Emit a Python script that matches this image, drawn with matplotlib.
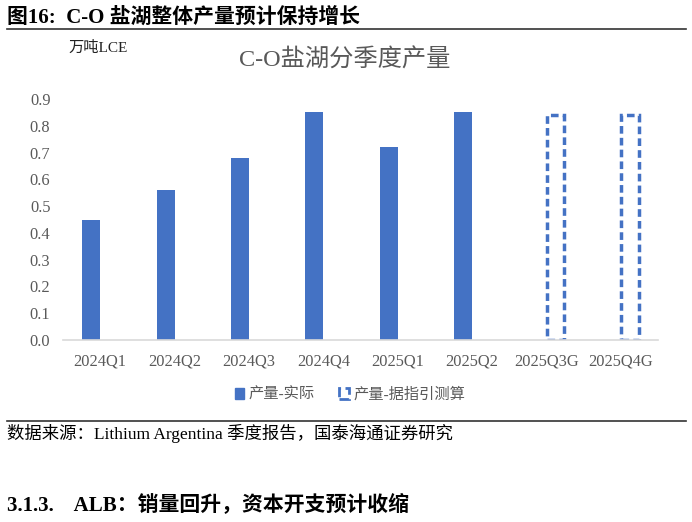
import numpy as np
import matplotlib
matplotlib.use('Agg')
import matplotlib.pyplot as plt
import matplotlib.patches as mpatches
from matplotlib.lines import Line2D

plt.rcParams['font.family'] = ['Liberation Serif', 'Noto Sans CJK SC']

categories = ['2024Q1', '2024Q2', '2024Q3', '2024Q4', '2025Q1', '2025Q2', '2025Q3G', '2025Q4G']
actual = [0.45, 0.56, 0.68, 0.85, 0.72, 0.85, np.nan, np.nan]
guided = [np.nan, np.nan, np.nan, np.nan, np.nan, np.nan, 0.84, 0.84]
yticks = [0.0, 0.1, 0.2, 0.3, 0.4, 0.5, 0.6, 0.7, 0.8, 0.9]

blue = '#4472C4'
gray = '#595959'

fig = plt.figure(figsize=(6.92, 5.22), dpi=100)
ax = fig.add_axes([0.091, 0.3487, 0.86, 0.4616])

x = np.arange(len(categories))
w = 0.24
ax.bar(x - w / 2, actual, width=w, color=blue, label='产量-实际')
ax.bar(x + w / 2, guided, width=w, facecolor='none', edgecolor=blue,
       linewidth=2.5, linestyle=(0, (2.2, 1.2)), label='产量-据指引测算')

ax.set_xlim(-0.5, len(categories) - 0.5)
ax.set_ylim(0, 0.9)
ax.set_yticks(yticks)
ax.set_yticklabels(['%.1f' % v for v in yticks])
ax.set_xticks(x)
ax.set_xticklabels(categories)
ax.tick_params(axis='both', length=0, labelsize=11.8, colors=gray, pad=10)
ax.tick_params(axis='y', pad=9)
for s in ['top', 'right', 'left']:
    ax.spines[s].set_visible(False)
ax.spines['bottom'].set_color('#d9d9d9')
ax.spines['bottom'].set_linewidth(1.2)

h1 = mpatches.Patch(facecolor=blue, edgecolor=blue)
h2 = mpatches.Patch(facecolor='none', edgecolor=blue, linewidth=2, linestyle='--')
fig.legend([h1, h2], ['产量-实际', '产量-据指引测算'], loc='center', bbox_to_anchor=(0.506, 0.244),
           ncol=2, frameon=False, fontsize=11, handlelength=0.6, handleheight=0.7,
           handletextpad=0.3, columnspacing=1.6, labelcolor=gray)

fig.text(0.498, 0.885, 'C-O盐湖分季度产量', ha='center', va='center', fontsize=17.5, color=gray)
fig.text(0.099, 0.908, '万吨LCE', ha='left', va='center', fontsize=11, color='#222222')

fig.text(0.01, 0.967, '图16:  C-O 盐湖整体产量预计保持增长', ha='left', va='center',
         fontsize=15, fontweight='bold', color='black')
fig.add_artist(Line2D([0.01, 0.992], [0.9444, 0.9444], color='#333333', linewidth=1.2))
fig.add_artist(Line2D([0.01, 0.992], [0.1935, 0.1935], color='#333333', linewidth=1.2))
fig.text(0.01, 0.1705, '数据来源：Lithium Argentina 季度报告，国泰海通证券研究', ha='left', va='center',
         fontsize=12.5, color='black')
fig.text(0.01, 0.0326, '3.1.3.    ALB：销量回升，资本开支预计收缩', ha='left', va='center',
         fontsize=15, fontweight='bold', color='black')

fig.savefig('out.png', dpi=100)
